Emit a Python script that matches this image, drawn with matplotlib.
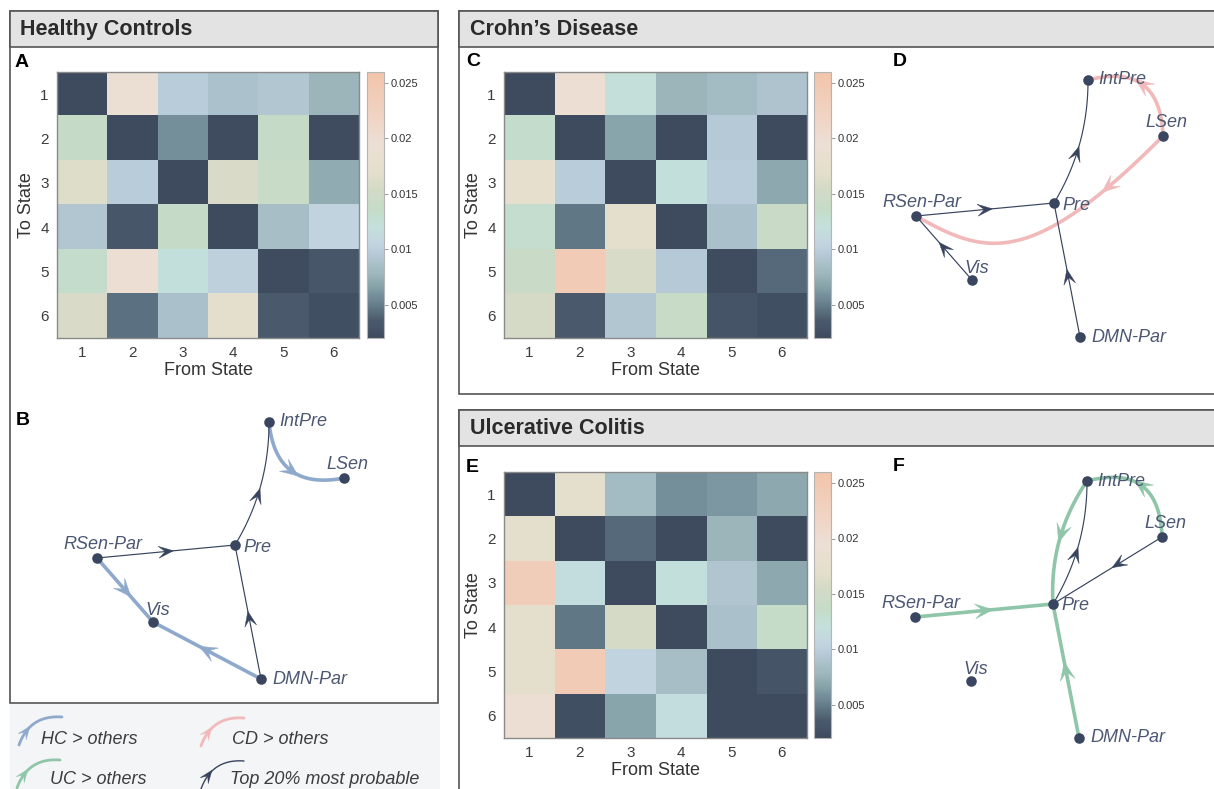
import numpy as np
import matplotlib.pyplot as plt
from matplotlib.patches import Rectangle, Polygon
from matplotlib.colors import LinearSegmentedColormap, Normalize

plt.rcParams["font.family"] = ["Liberation Sans", "DejaVu Sans"]

W, H = 1214, 789

# ---- data -----------------------------------------------------------------
STATES = [1, 2, 3, 4, 5, 6]
# transition probabilities, rows = To State, columns = From State
HC = [
    [0.0020, 0.0190, 0.0098, 0.0088, 0.0093, 0.0078],
    [0.0138, 0.0020, 0.0058, 0.0022, 0.0138, 0.0022],
    [0.0165, 0.0098, 0.0020, 0.0160, 0.0140, 0.0072],
    [0.0093, 0.0032, 0.0138, 0.0020, 0.0085, 0.0105],
    [0.0132, 0.0195, 0.0120, 0.0102, 0.0022, 0.0032],
    [0.0160, 0.0045, 0.0087, 0.0172, 0.0035, 0.0025],
]
CD = [
    [0.0020, 0.0195, 0.0122, 0.0078, 0.0082, 0.0090],
    [0.0132, 0.0020, 0.0068, 0.0020, 0.0095, 0.0020],
    [0.0178, 0.0098, 0.0020, 0.0120, 0.0098, 0.0070],
    [0.0130, 0.0048, 0.0172, 0.0020, 0.0087, 0.0142],
    [0.0142, 0.0240, 0.0158, 0.0095, 0.0022, 0.0042],
    [0.0155, 0.0035, 0.0093, 0.0140, 0.0030, 0.0025],
]
UC = [
    [0.0020, 0.0170, 0.0082, 0.0058, 0.0062, 0.0070],
    [0.0170, 0.0020, 0.0042, 0.0020, 0.0078, 0.0020],
    [0.0235, 0.0115, 0.0020, 0.0120, 0.0092, 0.0070],
    [0.0170, 0.0048, 0.0155, 0.0020, 0.0087, 0.0135],
    [0.0170, 0.0240, 0.0105, 0.0085, 0.0020, 0.0030],
    [0.0195, 0.0025, 0.0068, 0.0115, 0.0020, 0.0020],
]
VMIN, VMAX = 0.002, 0.026
CBAR_TICKS = [0.005, 0.01, 0.015, 0.02, 0.025]
CBAR_LABELS = ["0.005", "0.01", "0.015", "0.02", "0.025"]

# network layout (same for all groups), Pre at origin, y up
NODES = ["IntPre", "LSen", "Pre", "RSen-Par", "Vis", "DMN-Par"]
NODE_X = [34, 109, 0, -138, -82, 26]
NODE_Y = [123, 67, 0, -13, -77, -134]

# edges: (source, target, group, bend, arrow position)
EDGES_HC = [
    ("IntPre", "LSen", "HC", -0.55, 0.5),
    ("RSen-Par", "Vis", "HC", 0.0, 0.5),
    ("DMN-Par", "Vis", "HC", 0.0, 0.5),
    ("RSen-Par", "Pre", "top", 0.0, 0.5),
    ("Pre", "IntPre", "top", -0.14, 0.42),
    ("DMN-Par", "Pre", "top", 0.0, 0.45),
]
CD_DETOUR = [(-24, -67), (-69, -52)]   # control points of the LSen -> RSen-Par path
EDGES_CD = [
    ("LSen", "IntPre", "CD", -0.62, 0.5),
    ("LSen", "RSen-Par", "CD", CD_DETOUR, 0.15),
    ("RSen-Par", "Pre", "top", 0.0, 0.5),
    ("Pre", "IntPre", "top", -0.14, 0.42),
    ("Vis", "RSen-Par", "top", 0.0, 0.5),
    ("DMN-Par", "Pre", "top", 0.0, 0.45),
]
EDGES_UC = [
    ("LSen", "IntPre", "UC", -0.62, 0.5),
    ("IntPre", "Pre", "UC", -0.17, 0.45),
    ("RSen-Par", "Pre", "UC", 0.0, 0.5),
    ("DMN-Par", "Pre", "UC", 0.0, 0.5),
    ("Pre", "IntPre", "top", -0.14, 0.42),
    ("LSen", "Pre", "top", 0.0, 0.4),
]
LEGEND_LABELS = ["HC > others", "CD > others", "UC > others", "Top 20% most probable"]
LEGEND_GROUPS = ["HC", "CD", "UC", "top"]

# ---- style ----------------------------------------------------------------
GROUP_COLOR = {"HC": "#8ea9cc", "CD": "#f1b9b9", "UC": "#8fc6a9", "top": "#38445e"}
GROUP_LW = {"HC": 2.6, "CD": 2.6, "UC": 2.6, "top": 0.85}
NODE_COLOR = "#3a4660"
LABEL_COLOR = "#4b5773"
INK = "#2b2b2b"
cmap = LinearSegmentedColormap.from_list("tp", [
    (0.0, "#3e4a5e"), (0.0625, "#4a5a6c"), (0.125, "#667e8c"), (0.1875, "#84a0a8"),
    (0.25, "#a0bac0"), (0.3125, "#b6c9d6"), (0.354, "#c2d4e0"), (0.4167, "#c4e0dc"),
    (0.479, "#c4dcc8"), (0.5625, "#d4dac6"), (0.625, "#e4dfcc"), (0.729, "#ecdfd4"),
    (0.833, "#f0d4c4"), (1.0, "#f2c4aa")])
norm = Normalize(VMIN, VMAX)
LABEL_POS = {  # dx, dy, ha, va
    "IntPre": (10, 0, "left", "center"), "LSen": (3, 5, "center", "bottom"),
    "Pre": (8, -2, "left", "center"), "RSen-Par": (6, 5, "center", "bottom"),
    "Vis": (5, 3, "center", "bottom"), "DMN-Par": (11, 0, "left", "center"),
}


def px_rect(l, t, r, b):
    return [l / W, 1 - b / H, (r - l) / W, (b - t) / H]


def bezier(ctrl, ts):
    out = []
    for t in np.atleast_1d(ts):
        p = np.array(ctrl, float)
        while len(p) > 1:
            p = (1 - t) * p[:-1] + t * p[1:]
        out.append(p[0])
    return np.array(out)


def ctrl_points(p0, p1, bend):
    p0, p1 = np.array(p0, float), np.array(p1, float)
    if isinstance(bend, list):
        return [p0] + [np.array(c, float) for c in bend] + [p1]
    if bend == 0:
        return [p0, p1]
    d = p1 - p0
    c = (p0 + p1) / 2 + bend * np.array([-d[1], d[0]])
    return [p0, c, p1]


def arrowhead(ax, p, d, color, length, half, z):
    d = d / np.hypot(*d)
    n = np.array([-d[1], d[0]])
    tip, back, notch = p + d * length / 2, p - d * length / 2, p - d * length * 0.05
    ax.add_patch(Polygon([tip, back + n * half, notch, back - n * half], closed=True,
                         facecolor=color, edgecolor=color, lw=0.3, zorder=z))


def draw_edge(ax, p0, p1, group, bend, t_arrow):
    ctrl = ctrl_points(p0, p1, bend)
    curve = bezier(ctrl, np.linspace(0, 1, 120))
    col = GROUP_COLOR[group]
    z = 3 if group == "top" else 2
    ax.plot(curve[:, 0], curve[:, 1], color=col, lw=GROUP_LW[group],
            solid_capstyle="round", zorder=z)
    a, b = bezier(ctrl, [t_arrow - 0.01, t_arrow + 0.01])
    big = group != "top"
    arrowhead(ax, (a + b) / 2, b - a, col, 18 if big else 15, 7.5 if big else 6, z)


def heatmap(rect, cb_rect, mat, letter, letter_xy):
    ax = fig.add_axes(px_rect(*rect))
    im = ax.imshow(np.array(mat), cmap=cmap, norm=norm, aspect="auto",
                   interpolation="nearest", extent=(0.5, 6.5, 6.5, 0.5))
    ax.set_xticks(STATES)
    ax.set_yticks(STATES)
    ax.tick_params(length=0, labelsize=11, labelcolor="#3c3c3c", pad=6)
    ax.set_xlabel("From State", fontsize=13, color="#333333", labelpad=1)
    ax.set_ylabel("To State", fontsize=13, color="#333333", labelpad=4)
    for s in ax.spines.values():
        s.set_color("#8a8a8a")
        s.set_linewidth(1.0)
    cax = fig.add_axes(px_rect(*cb_rect))
    cb = fig.colorbar(im, cax=cax)
    cb.set_ticks(CBAR_TICKS)
    cb.set_ticklabels(CBAR_LABELS)
    cb.ax.tick_params(labelsize=8, length=3, width=0.6, color="#8a8a8a",
                      labelcolor="#333333", pad=2)
    cb.outline.set_edgecolor("#b5b5b5")
    cb.outline.set_linewidth(0.8)
    bg.text(*letter_xy, letter, fontsize=14, fontweight="bold", color="black",
            ha="left", va="center")


def network(region, pre_px, edges, letter, letter_xy):
    l, t, r, b = region
    ax = fig.add_axes(px_rect(l, t, r, b))
    ax.set_xlim(l - pre_px[0], r - pre_px[0])
    ax.set_ylim(pre_px[1] - b, pre_px[1] - t)
    ax.axis("off")
    pos = {n: (x, y) for n, x, y in zip(NODES, NODE_X, NODE_Y)}
    for src, dst, grp, bend, ta in edges:
        draw_edge(ax, pos[src], pos[dst], grp, bend, ta)
    ax.scatter(NODE_X, NODE_Y, s=58, color=NODE_COLOR, zorder=6, linewidths=0)
    for n in NODES:
        dx, dy, ha, va = LABEL_POS[n]
        ax.text(pos[n][0] + dx, pos[n][1] + dy, n, fontsize=13, style="italic",
                color=LABEL_COLOR, ha=ha, va=va, zorder=7)
    bg.text(*letter_xy, letter, fontsize=14, fontweight="bold", color="black",
            ha="left", va="center")


fig = plt.figure(figsize=(W / 100, H / 100), dpi=100)
fig.patch.set_facecolor("white")
bg = fig.add_axes([0, 0, 1, 1])
bg.set_xlim(0, W)
bg.set_ylim(H, 0)
bg.axis("off")

# panel frames with title bands
for (x0, y0, w, h, title) in [(9.5, 10.5, 428, 692, "Healthy Controls"),
                              (458.5, 10.5, 800, 383, "Crohn\u2019s Disease"),
                              (458.5, 409.5, 800, 420, "Ulcerative Colitis")]:
    bg.add_patch(Rectangle((x0, y0), w, h, facecolor="white", edgecolor="#555555", lw=1.2))
    bg.add_patch(Rectangle((x0, y0), w, 36, facecolor="#e3e3e4", edgecolor="#555555", lw=1.2))
    bg.text(x0 + 11, y0 + 19, title, fontsize=15.5, fontweight="bold", color=INK,
            ha="left", va="center")
bg.add_patch(Rectangle((10, 704), 430, 90, facecolor="#f4f5f6", edgecolor="none"))

heatmap((57, 72, 359, 338), (367, 72, 384, 338), HC, "A", (15, 62))
heatmap((504, 72, 807, 338), (814, 72, 831, 338), CD, "C", (466, 61))
heatmap((504, 472, 807, 738), (814, 472, 831, 738), UC, "E", (466, 467))

network((10, 395, 437, 700), (235, 545), EDGES_HC, "B", (16, 420))
network((840, 50, 1214, 390), (1054, 203), EDGES_CD, "D", (893, 61))
network((840, 450, 1214, 785), (1053, 604), EDGES_UC, "F", (893, 466))

# legend
lg = fig.add_axes(px_rect(10, 704, 440, 789))
lg.set_xlim(0, 430)
lg.set_ylim(85, 0)
lg.axis("off")
icon_start = [(9, 41), (191, 42), (7, 84), (191, 85)]
text_xy = [(31, 36), (222, 36), (40, 75), (220, 75)]
for lab, grp, st, txy in zip(LEGEND_LABELS, LEGEND_GROUPS, icon_start, text_xy):
    p0 = np.array(st, float)
    p1 = p0 + np.array([43, -28])
    ctrl = ctrl_points(p0, p1, -0.38)
    curve = bezier(ctrl, np.linspace(0, 1, 60))
    col = GROUP_COLOR[grp]
    lw = 2.0 if grp != "top" else 1.0
    lg.plot(curve[:, 0], curve[:, 1], color=col, lw=lw, solid_capstyle="round")
    a, b = bezier(ctrl, [0.24, 0.28])
    arrowhead(lg, (a + b) / 2, b - a, col, 13, 5, 3)
    lg.text(*txy, lab, fontsize=13, style="italic", color="#3d3d3d", ha="left", va="center")

fig.savefig("out.png", dpi=100)
